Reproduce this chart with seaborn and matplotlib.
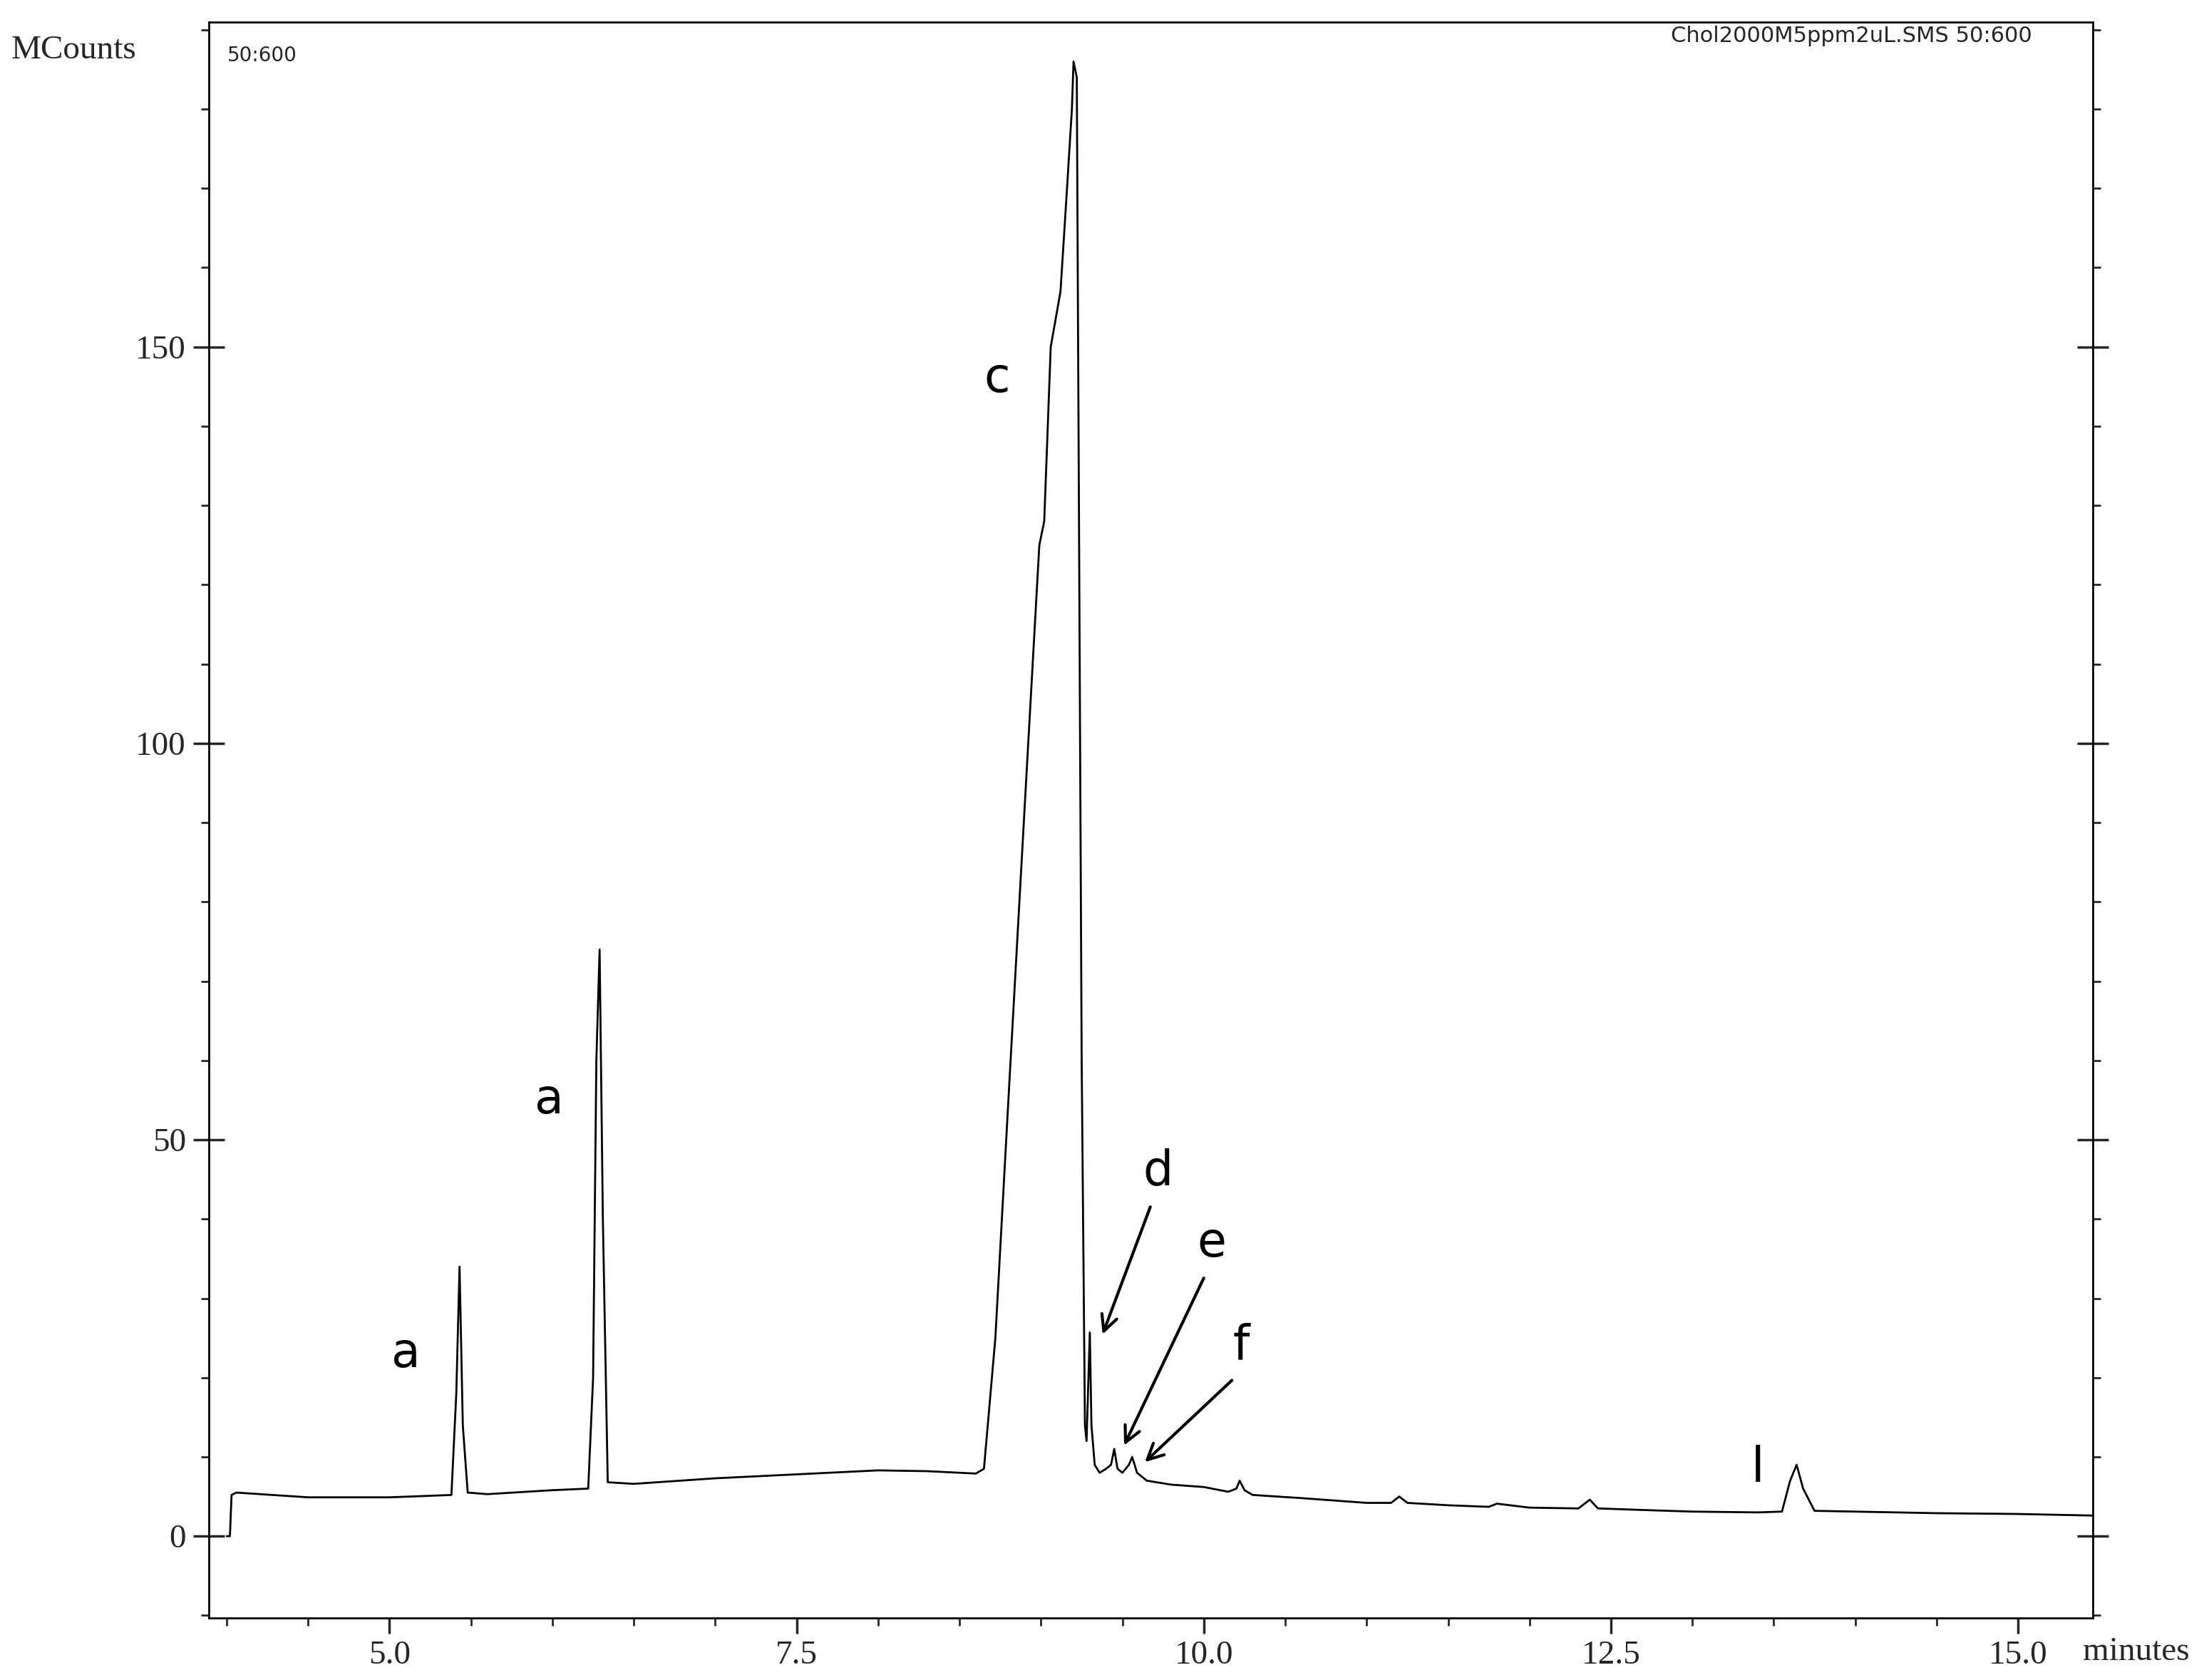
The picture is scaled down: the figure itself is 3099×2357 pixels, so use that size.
import matplotlib
matplotlib.use("Agg")
import matplotlib.pyplot as plt
import seaborn as sns
import pandas as pd
from matplotlib.ticker import MultipleLocator

sns.set_theme(style="white")
plt.rcParams['font.family'] = ['DejaVu Sans']

time = [4.0, 4.02, 4.03, 4.06, 4.5, 5.0, 5.38, 5.41, 5.43, 5.45, 5.48, 5.6, 6.0, 6.22, 6.25, 6.27, 6.29, 6.31, 6.34,
        6.5, 7.0, 7.5, 8.0, 8.3, 8.6, 8.65, 8.72, 8.80, 8.90, 8.99, 9.02, 9.06, 9.12, 9.16, 9.19, 9.20, 9.22, 9.25,
        9.27, 9.28, 9.30, 9.31, 9.33, 9.36, 9.40, 9.43, 9.45, 9.47, 9.50, 9.54, 9.56, 9.59, 9.65, 9.8, 10.0, 10.15,
        10.2, 10.22, 10.25, 10.3, 10.6, 11.0, 11.15, 11.2, 11.25, 11.5, 11.75, 11.8, 12.0, 12.3, 12.37, 12.42, 12.7,
        13.0, 13.4, 13.55, 13.6, 13.64, 13.68, 13.75, 14.0, 14.5, 15.0, 15.46]
counts = [0.0, 0.0, 5.2, 5.5, 4.9, 4.9, 5.2, 18, 34, 14, 5.5, 5.3, 5.8, 6.0, 20, 60, 74, 40, 6.8,
          6.6, 7.3, 7.8, 8.3, 8.2, 7.9, 8.5, 25, 55, 92, 125, 128, 150, 157, 170, 180, 186, 184, 60,
          14, 12, 25.7, 14, 9, 8, 8.5, 9, 11, 8.5, 8.0, 9, 10, 8.0, 7.0, 6.5, 6.2, 5.6,
          6.0, 7.0, 5.8, 5.2, 4.8, 4.2, 4.2, 5.0, 4.2, 3.9, 3.7, 4.1, 3.6, 3.5, 4.6, 3.5, 3.3,
          3.1, 3.0, 3.1, 7, 9, 6, 3.2, 3.1, 2.9, 2.8, 2.6]

df = pd.DataFrame({"time": time, "counts": counts})

fig = plt.figure(figsize=(15.495, 11.785), dpi=200)
ax = fig.add_axes([0.0945, 0.037, 0.853, 0.95])
sns.lineplot(data=df, x="time", y="counts", ax=ax, color="black", linewidth=1.0)
ax.set_xlim(3.89, 15.46)
ax.set_ylim(-10.3, 191)
ax.set_xlabel("")
ax.set_ylabel("")
for s in ax.spines.values():
    s.set_color("black")
    s.set_linewidth(1.0)
ax.xaxis.set_major_locator(MultipleLocator(2.5))
ax.xaxis.set_minor_locator(MultipleLocator(0.5))
ax.yaxis.set_major_locator(MultipleLocator(50))
ax.yaxis.set_minor_locator(MultipleLocator(10))
ax.tick_params(axis="x", which="major", direction="out", length=8, bottom=True, labelsize=15)
ax.tick_params(axis="x", which="minor", direction="out", length=4, bottom=True)
ax.tick_params(axis="y", which="major", direction="inout", length=16, left=True, right=True, labelsize=15)
ax.tick_params(axis="y", which="minor", direction="out", length=4, left=True, right=True)
serif = ['Liberation Serif', 'DejaVu Serif']
ax.set_xticks([5.0, 7.5, 10.0, 12.5, 15.0])
ax.set_xticklabels(["5.0", "7.5", "10.0", "12.5", "15.0"], family=serif, fontsize=17)
ax.set_yticks([0, 50, 100, 150])
ax.set_yticklabels(["0", "50", "100", "150"], family=serif, fontsize=17)

fig.text(0.005, 0.965, "MCounts", family=serif, fontsize=17)
fig.text(0.967, 0.012, "minutes", family=serif, fontsize=17, ha="center")
ax.text(0.01, 0.985, "50:600", transform=ax.transAxes, fontsize=10, va="top")
fig.text(0.92, 0.975, "Chol2000M5ppm2uL.SMS 50:600", fontsize=11, ha="right")

lab = dict(fontsize=24, ha="center", va="center", color="black")
ax.text(5.1, 23, "a", **lab)
ax.text(5.98, 55, "a", **lab)
ax.text(8.73, 146, "c", **lab)
ax.text(13.4, 8.6, "l", **lab)
for t, xt, yt, xa, ya in [("d", 9.72, 46, 9.37, 25), ("e", 10.05, 37, 9.50, 11), ("f", 10.23, 24, 9.62, 9)]:
    ax.text(xt, yt, t, **lab)
    ax.annotate("", xy=(xa, ya), xytext=(xt - 0.04, yt - 4),
                arrowprops=dict(arrowstyle="->", color="black", lw=1.5, mutation_scale=20))

fig.savefig("out.png", dpi=200)
